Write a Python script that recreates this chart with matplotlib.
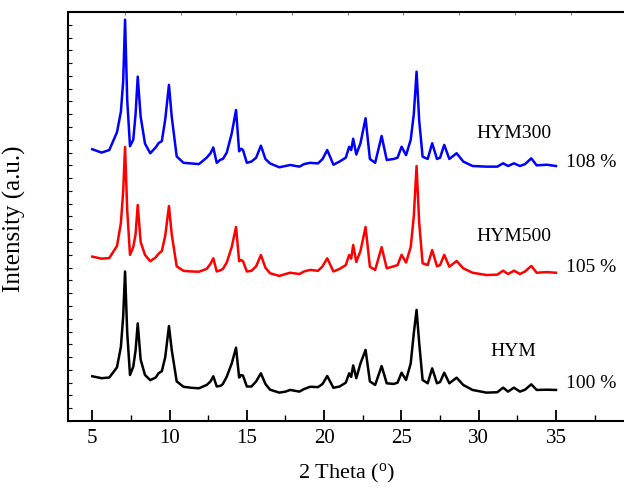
import matplotlib
matplotlib.use("Agg")
import matplotlib.pyplot as plt

plt.rcParams['font.family'] = ['Liberation Serif', 'DejaVu Serif']
plt.rcParams['mathtext.fontset'] = 'custom'
plt.rcParams['mathtext.rm'] = 'Liberation Serif'

# 2 theta positions (shared by the three patterns)
two_theta = [
    5.0, 5.6, 6.1, 6.6, 6.85, 7.0, 7.12, 7.26, 7.44, 7.65,
    7.8, 7.94, 8.13, 8.41, 8.75, 9.1, 9.3, 9.5, 9.72, 9.96,
    10.14, 10.46, 10.9, 11.4, 11.9, 12.4, 12.65, 12.83, 13.05, 13.3,
    13.45, 13.7, 14.02, 14.3, 14.5, 14.63, 14.75, 15.0, 15.3, 15.6,
    15.91, 16.2, 16.5, 17.1, 17.5, 17.8, 18.4, 18.7, 19.1, 19.6,
    19.9, 20.2, 20.6, 21.0, 21.4, 21.62, 21.75, 21.88, 22.08, 22.35,
    22.68, 22.96, 23.3, 23.72, 24.05, 24.5, 24.75, 25.01, 25.3, 25.6,
    25.8, 25.98, 26.15, 26.37, 26.7, 26.99, 27.3, 27.5, 27.77, 28.1,
    28.57, 29.0, 29.6, 30.5, 31.2, 31.58, 31.9, 32.28, 32.67, 33.0,
    33.4, 33.75, 34.4, 35.0,
]

# stacked intensities (a.u., offsets included)
hym = [
    3.5, 3.35, 3.4, 4.2, 5.8, 8.2, 11.7, 6.9, 3.6, 4.25,
    5.5, 7.64, 4.8, 3.6, 3.2, 3.4, 3.75, 3.9, 5.0, 7.43,
    5.56, 3.1, 2.68, 2.6, 2.56, 2.82, 3.1, 3.5, 2.7, 2.75,
    2.9, 3.47, 4.5, 5.74, 3.4, 3.6, 3.55, 2.7, 2.7, 3.1,
    3.73, 2.9, 2.45, 2.22, 2.3, 2.43, 2.3, 2.5, 2.68, 2.65,
    2.9, 3.52, 2.6, 2.7, 3.0, 3.73, 3.45, 4.35, 3.35, 4.5,
    5.56, 3.1, 2.82, 4.3, 2.95, 2.9, 3.0, 3.78, 3.21, 4.5,
    6.86, 8.69, 6.1, 3.21, 2.95, 4.12, 2.95, 3.05, 3.78, 2.95,
    3.39, 2.82, 2.43, 2.22, 2.25, 2.61, 2.3, 2.61, 2.3, 2.45,
    2.87, 2.43, 2.45, 2.43,
]
hym500 = [
    12.86, 12.7, 12.75, 13.7, 15.5, 18.0, 21.44, 16.5, 13.0, 13.6,
    14.6, 16.9, 14.0, 13.0, 12.5, 12.8, 13.1, 13.3, 14.5, 16.82,
    14.6, 12.1, 11.75, 11.7, 11.68, 11.9, 12.3, 12.73, 11.7, 11.8,
    11.9, 12.4, 13.6, 15.18, 12.5, 12.6, 12.5, 11.7, 11.75, 12.1,
    12.99, 12.0, 11.56, 11.35, 11.5, 11.6, 11.5, 11.7, 11.82, 11.75,
    12.1, 12.73, 11.7, 11.9, 12.2, 12.99, 12.7, 13.77, 12.45, 13.3,
    15.18, 12.07, 11.82, 13.6, 11.95, 12.1, 12.2, 13.0, 12.4, 13.6,
    16.0, 19.95, 15.5, 12.34, 12.2, 13.38, 12.1, 12.2, 13.0, 12.07,
    12.52, 11.95, 11.6, 11.42, 11.45, 11.76, 11.5, 11.76, 11.5, 11.7,
    12.13, 11.6, 11.65, 11.6,
]
hym300 = [
    21.26, 21.0, 21.2, 22.6, 24.2, 26.6, 31.4, 25.1, 21.5, 22.0,
    24.0, 26.94, 23.8, 21.7, 20.95, 21.4, 21.75, 21.9, 23.6, 26.3,
    23.8, 20.7, 20.2, 20.15, 20.1, 20.6, 20.95, 21.4, 20.2, 20.45,
    20.5, 21.0, 22.5, 24.33, 21.1, 21.3, 21.2, 20.2, 20.3, 20.6,
    21.54, 20.5, 20.15, 19.85, 19.95, 20.03, 19.9, 20.1, 20.2, 20.15,
    20.5, 21.2, 20.05, 20.3, 20.6, 21.45, 21.2, 22.08, 20.85, 21.73,
    23.69, 20.5, 20.2, 22.3, 20.42, 20.5, 20.6, 21.46, 20.8, 22.0,
    24.0, 27.33, 23.5, 20.68, 20.5, 21.73, 20.5, 20.6, 21.6, 20.5,
    20.95, 20.3, 19.95, 19.9, 19.9, 20.16, 19.95, 20.16, 19.95, 20.1,
    20.55, 20.0, 20.05, 19.95,
]

names = ["HYM", "HYM500", "HYM300"]
percents = ["100 %", "105 %", "108 %"]
name_y = [5.4, 14.4, 22.5]
pct_y = [2.95, 12.0, 20.2]

fig = plt.figure(figsize=(6.24, 4.97), dpi=100)
ax = fig.add_axes([0.1095, 0.1529, 0.8905, 0.823])

ax.plot(two_theta, hym, color="black", lw=1.8)
ax.plot(two_theta, hym500, color="red", lw=1.8)
ax.plot(two_theta, hym300, color="blue", lw=1.8)

for n, y in zip(names, name_y):
    ax.text(32.25, y, n, ha="center", va="center", fontsize=14)
for p, y in zip(percents, pct_y):
    ax.text(35.65, y, p, ha="left", va="center", fontsize=14)

ax.set_xlim(3.45, 39.4)
ax.set_ylim(0, 32)
ax.set_xticks([5, 10, 15, 20, 25, 30, 35])
ax.set_xticks([7.5, 12.5, 17.5, 22.5, 27.5, 32.5, 37.5], minor=True)
ax.set_yticks(range(0, 32))
ax.tick_params(axis="x", which="major", direction="in", length=8, width=1.3,
               labelsize=15, pad=6, top=False)
ax.tick_params(axis="x", which="minor", direction="in", length=4, width=1.0, top=False)
ax.tick_params(axis="y", direction="in", length=3, width=0.8, labelleft=False, right=False)
ax.spines["right"].set_visible(False)
for s in ["left", "bottom", "top"]:
    ax.spines[s].set_linewidth(1.5)

# faint ticks along the top edge
top = ax.secondary_xaxis("top")
top.set_xticks([7.12, 10.72, 14.33, 17.94, 21.55, 25.13, 28.75, 32.35, 35.95])
top.tick_params(direction="in", length=2, width=0.8, color="0.5", labeltop=False)
top.spines["top"].set_visible(False)

ax.set_xlabel(r"2 Theta ($\mathregular{^o}$)", fontsize=16, labelpad=10)
ax.set_ylabel("Intensity (a.u.)", fontsize=18)
ax.yaxis.set_label_coords(-0.076, 0.494)

fig.savefig("out.png", dpi=100)
